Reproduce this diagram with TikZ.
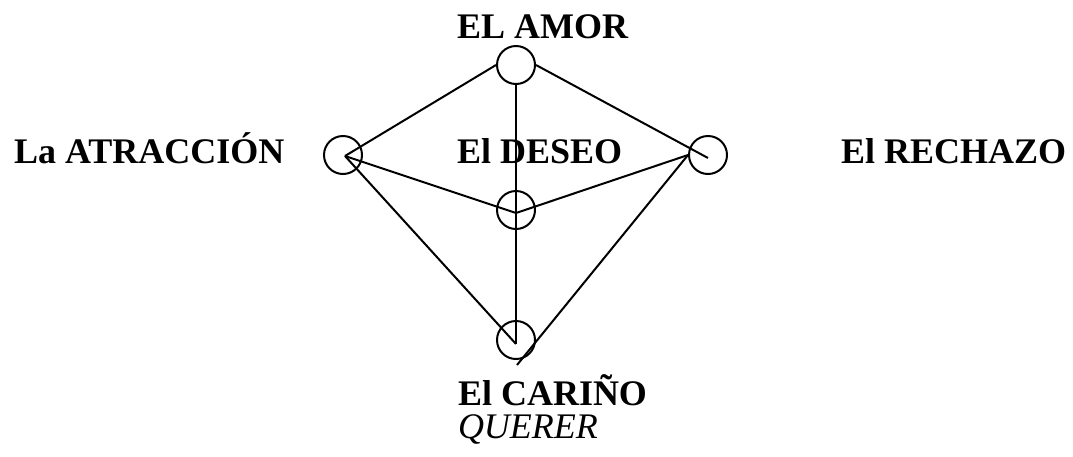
\documentclass[tikz,border=0pt]{standalone}
\usepackage{fontspec}
\setmainfont{Liberation Serif}
\usepackage{tikz}

\begin{document}
\begin{tikzpicture}[x=1pt, y=-1pt, line width=2pt,
        ring/.style={circle, draw, minimum size=38pt, inner sep=0pt},
        word/.style={anchor=base west, inner sep=0pt, font=\fontsize{36}{40}\selectfont\bfseries}]
        \useasboundingbox (0, 0) rectangle (1073, 456);

        % labels
        \node[word] (amorlbl) at (456, 38) {EL AMOR};
        \node[word] (atraclbl) at (13, 163) {La ATRACCIÓN};
        \node[word] (deseolbl) at (456, 163) {El DESEO};
        \node[word] (rechazolbl) at (840, 163) {El RECHAZO};
        \node[word] (carinolbl) at (457, 405) {El CARIÑO};
        \node[word, font=\fontsize{36}{40}\selectfont\itshape] (quererlbl) at (457, 438) {QUERER};

        % circles
        \node[ring] (amor) at (516, 65) {};
        \node[ring] (atrac) at (343, 155) {};
        \node[ring] (rechazo) at (708, 155) {};
        \node[ring] (deseo) at (516, 210) {};
        \node[ring] (carino) at (516, 340) {};

        \coordinate (pA) at (345, 156);
        \coordinate (pR) at (708, 158);
        \coordinate (pD) at (516, 213);
        \coordinate (pC) at (516, 344);
        \coordinate (tail) at (517, 365);

        \draw (amor.south) -- (pC);
        \draw (amor.west) -- (pA);
        \draw (amor.east) -- (pR);
        \draw (pA) -- (pD);
        \draw (pD) -- (rechazo.west);
        \draw (pA) -- (pC);
        \draw (rechazo.west) -- (tail);
\end{tikzpicture}
\end{document}
